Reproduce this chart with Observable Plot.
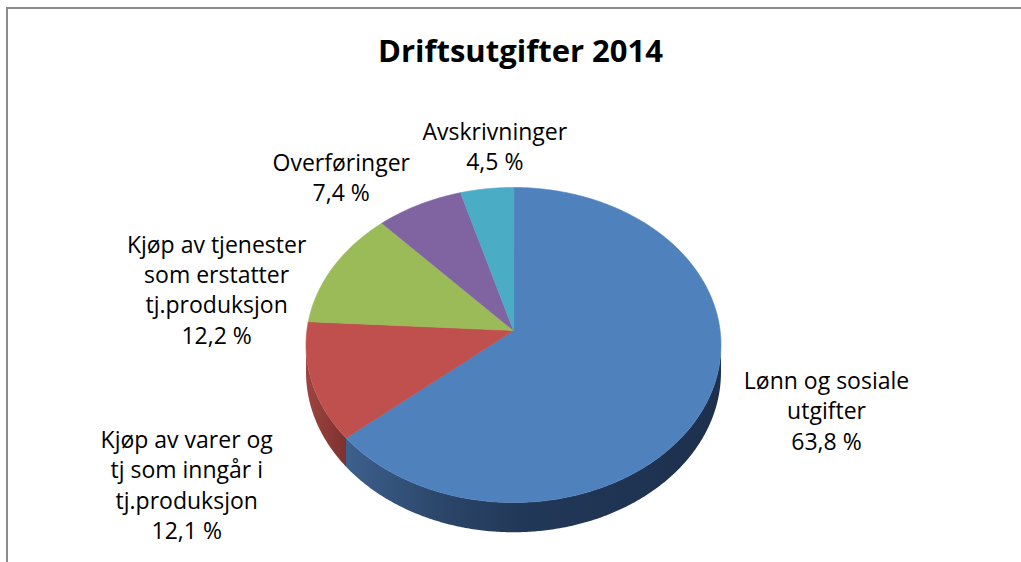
<!DOCTYPE html>
<html><head><meta charset="utf-8">
<script src="https://cdn.jsdelivr.net/npm/d3@7"></script>
<script src="https://cdn.jsdelivr.net/npm/@observablehq/plot@0.6"></script>
<style>
html,body{margin:0;padding:0;background:#fff;}
#wrap{position:relative;width:1021px;height:562px;overflow:hidden;}
#frame{position:absolute;left:6px;top:7px;width:1100px;height:600px;border-top:2px solid #8c8c8c;border-left:2px solid #8c8c8c;}
#chart{position:absolute;left:0;top:0;}
</style></head><body>
<div id="wrap"><div id="frame"></div><div id="chart"></div></div>
<script>
// ---- data ----
const title = "Driftsutgifter 2014";
const categories = [
  "Lønn og sosiale\nutgifter",
  "Kjøp av varer og\ntj som inngår i\ntj.produksjon",
  "Kjøp av tjenester\nsom erstatter\ntj.produksjon",
  "Overføringer",
  "Avskrivninger"
];
const shares = [63.8, 12.1, 12.2, 7.4, 4.5];

// ---- styles / layout ----
const topColors = ["#4f81bd", "#c0504d", "#9bbb59", "#8064a2", "#4bacc6"];
// horizontal gradients for the visible side wall of each slice (x in px, colour)
const sideGradients = [
  [[345, "#3d608d"], [440, "#2b466a"], [520, "#223858"], [720, "#1d304e"]],
  [[305, "#9e4441"], [347, "#7b312f"]],
  [[0, "#6f8a3f"], [1021, "#6f8a3f"]],
  [[0, "#5a4675"], [1021, "#5a4675"]],
  [[0, "#357a8d"], [1021, "#357a8d"]]
];
const labelOffsets = [[118, -10], [-125, 66], [-117, -14], [-78, -34], [8, -49]];
const W = 1021, H = 562;
const pie = {cx: 513, cy: 330, a: 206.6, b: 156.2, k: 0.092, depth: 27};
const FS = 23, LH = 1.326;

function project(theta, r = 1, drop = 0) {
  const X = r * Math.sin(theta), Z = r * Math.cos(theta);
  const w = 1 + pie.k * Z;
  return {x: pie.cx + pie.a * X / w, y: pie.cy - pie.b * Z / w + drop / w};
}

const arcs = d3.pie().sort(null).value(d => d)(shares);
const rad = Math.PI / 180;
const verts = [];
const vis0 = Math.acos(-pie.k), vis1 = 2 * Math.PI - vis0;
// side walls: top arc forward, bottom arc backward
arcs.forEach((a, i) => {
  const s = Math.max(a.startAngle, vis0), e = Math.min(a.endAngle, vis1);
  if (e <= s) return;
  const n = Math.max(2, Math.ceil((e - s) / (0.5 * rad)));
  const key = `side-${i}`, color = `url(#side${i})`;
  for (let j = 0; j <= n; j++) {
    const p = project(s + (e - s) * j / n);
    verts.push({key, x: p.x, y: p.y, color});
  }
  for (let j = n; j >= 0; j--) {
    const p = project(s + (e - s) * j / n, 1, pie.depth);
    verts.push({key, x: p.x, y: p.y, color});
  }
});
// top faces
arcs.forEach((a, i) => {
  const key = `top-${i}`;
  const c = project(0, 0);
  verts.push({key, x: c.x, y: c.y, color: topColors[i]});
  const n = Math.max(2, Math.ceil((a.endAngle - a.startAngle) / (0.5 * rad)));
  for (let j = 0; j <= n; j++) {
    const p = project(a.startAngle + (a.endAngle - a.startAngle) * j / n);
    verts.push({key, x: p.x, y: p.y, color: topColors[i]});
  }
});

const labels = arcs.map((a, i) => {
  const edge = project((a.startAngle + a.endAngle) / 2);
  const pct = shares[i].toFixed(1).replace(".", ",") + " %";
  return {
    x: edge.x + labelOffsets[i][0],
    y: edge.y + labelOffsets[i][1] - 0.71 * LH * FS,
    text: categories[i] + "\n" + pct
  };
});

const chart = Plot.plot({
  width: W, height: H, margin: 0,
  x: {domain: [0, W], range: [0, W], axis: null},
  y: {domain: [0, H], range: [0, H], axis: null},
  color: {type: "identity"},
  style: {fontFamily: "'Open Sans', sans-serif", background: "transparent", overflow: "visible"},
  marks: [
    Plot.line(verts.filter(d => d.key.startsWith("side")), {x: "x", y: "y", z: "key", fill: "color", stroke: "none", curve: "linear-closed"}),
    Plot.line(verts.filter(d => d.key.startsWith("top")), {x: "x", y: "y", z: "key", fill: "color", stroke: "color", strokeWidth: 0.6, curve: "linear-closed"}),
    Plot.text([title], {frameAnchor: "top", dx: 9.5, dy: 61, lineAnchor: "bottom", fontSize: 31, fontWeight: "bold", fill: "#000"}),
    Plot.text(labels, {x: "x", y: "y", text: "text", lineAnchor: "top", lineHeight: LH, fontSize: FS, fill: "#000", textAnchor: "middle"})
  ]
});
// gradient definitions for the side walls
const defs = d3.select(chart).insert("defs", ":first-child");
sideGradients.forEach((stops, i) => {
  const x0 = stops[0][0], x1 = stops[stops.length - 1][0];
  const g = defs.append("linearGradient").attr("id", `side${i}`)
    .attr("gradientUnits", "userSpaceOnUse")
    .attr("x1", x0).attr("x2", x1).attr("y1", 0).attr("y2", 0);
  stops.forEach(([x, c]) => g.append("stop").attr("offset", (x - x0) / (x1 - x0)).attr("stop-color", c));
});
document.getElementById("chart").appendChild(chart);
</script>
</body></html>
